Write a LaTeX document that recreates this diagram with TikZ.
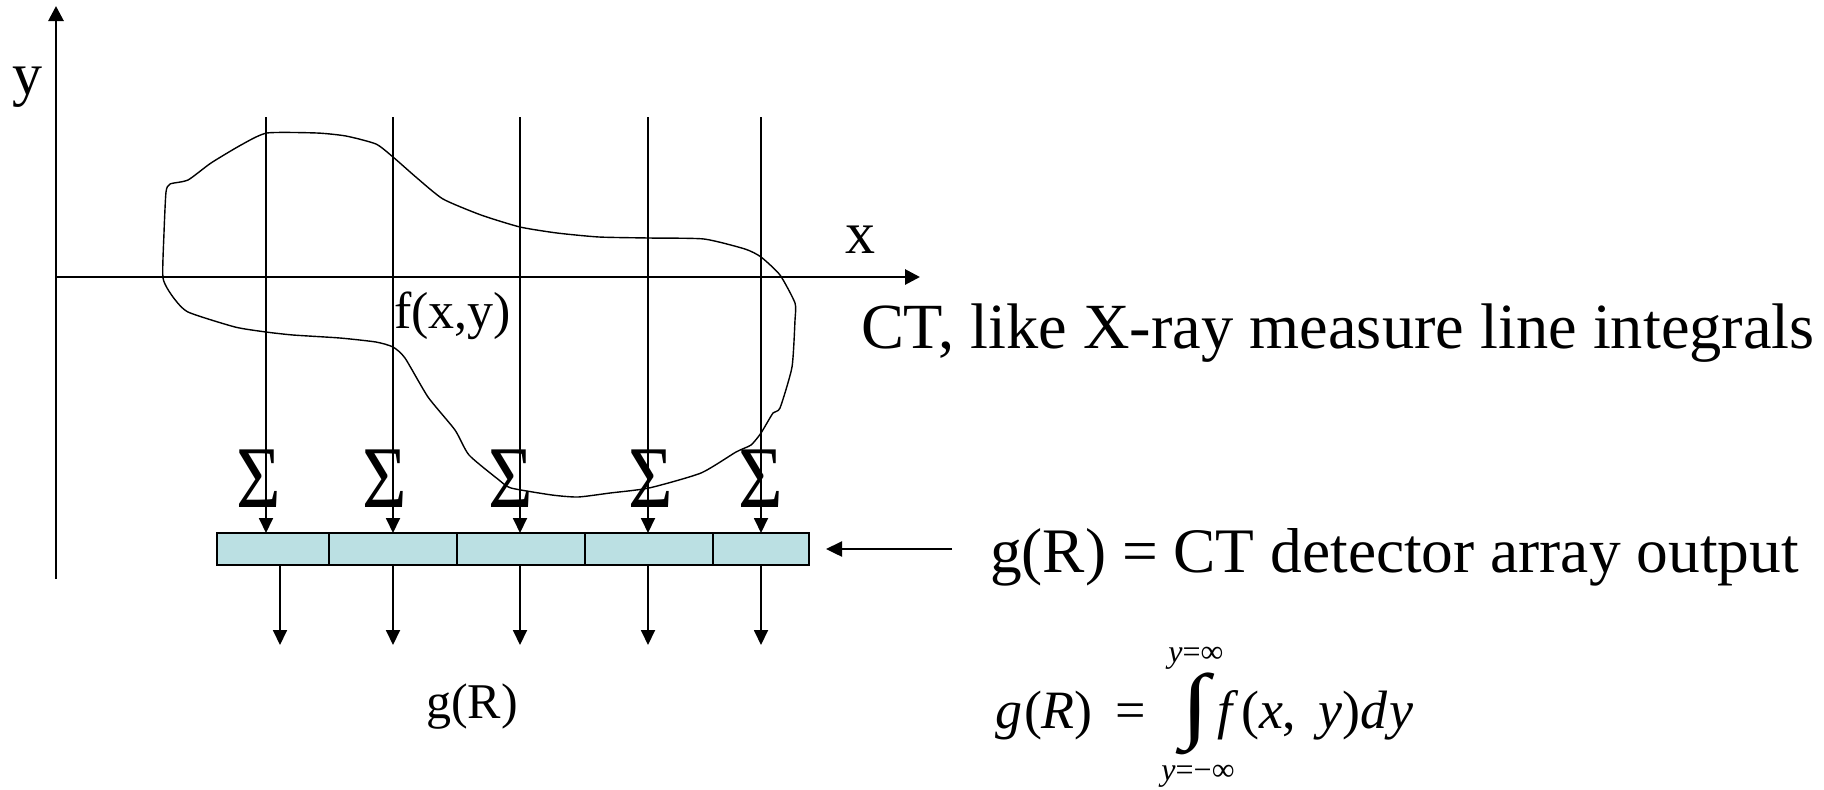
\documentclass[tikz,border=0pt]{standalone}
\usepackage{fontspec}
\setmainfont{Liberation Serif}
\usetikzlibrary{arrows.meta}
\definecolor{cellfill}{RGB}{187,224,227}
\begin{document}
\begin{tikzpicture}[x=0.5pt,y=-0.5pt,
  axisline/.style={line width=1.4pt,-{Triangle[length=7.5pt,width=7.5pt]}},
  ray/.style={line width=0.9pt,-{Triangle[length=7.5pt,width=7pt]}},
  blobline/.style={line width=0.7pt},
  cell/.style={draw,line width=1.2pt,fill=cellfill,minimum height=16pt,inner sep=0pt,outer sep=0pt},
  txt/.style={inner sep=0pt,outer sep=0pt,anchor=base west},
  sig/.style={inner sep=0pt,outer sep=0pt,anchor=base,font=\fontsize{44}{44}\selectfont}
]
\useasboundingbox (0,0) rectangle (1824,789);

% axes
\coordinate (O) at (56,277);
\coordinate (ytop) at (56,6);
\coordinate (ybot) at (56,579);
\coordinate (xend) at (920,277);
\draw[axisline] (ybot) -- (ytop);
\draw[axisline] (O) -- (xend);
\node[txt,font=\fontsize{30}{30}\selectfont] (ylab) at (12,94) {y};
\node[txt,font=\fontsize{30}{30}\selectfont] (xlab) at (845,253) {x};

% object outline
\draw[blobline] plot[smooth cycle,tension=0.35] coordinates {
 (170,184) (188,180) (211,163) (241,145) (267,133) (317,133) (346,136) (376,144)
 (393,157) (417,178) (443,199) (481,215) (520,227) (557,233) (599,237) (649,238)
 (704,239) (745,249) (761,257) (780,275) (795,303) (795,320) (792,367) (780,408)
 (773,413) (761,433) (751,445) (736,452) (701,473) (649,488) (610,493) (578,497)
 (552,495) (511,488) (499,480) (469,455) (455,430) (428,397) (405,358) (393,347)
 (376,342) (340,338) (293,335) (266,332) (235,327) (188,312) (173,297) (163,278)
 (164,233) (166,192)};
\node[txt,font=\fontsize{26}{26}\selectfont] (fxy) at (394,328) {f(x,y)};

% detector cells
\node[cell,minimum width=56pt] (c1) at (273,549) {};
\node[cell,minimum width=64pt] (c2) at (393,549) {};
\node[cell,minimum width=64pt] (c3) at (521,549) {};
\node[cell,minimum width=64pt] (c4) at (649,549) {};
\node[cell,minimum width=48pt] (c5) at (761,549) {};

% sums
\node[sig] (s1) at (259,507) {\scalebox{0.87}[1]{Σ}};
\node[sig] (s2) at (385,507) {\scalebox{0.87}[1]{Σ}};
\node[sig] (s3) at (511,507) {\scalebox{0.87}[1]{Σ}};
\node[sig] (s4) at (651,507) {\scalebox{0.87}[1]{Σ}};
\node[sig] (s5) at (761,507) {\scalebox{0.87}[1]{Σ}};

% rays
\coordinate (t1) at (266,117);
\coordinate (t2) at (393,117);
\coordinate (t3) at (520,117);
\coordinate (t4) at (648,117);
\coordinate (t5) at (761,117);
\draw[ray] (t1) -- (t1 |- c1.north);
\draw[ray] (t2) -- (t2 |- c2.north);
\draw[ray] (t3) -- (t3 |- c3.north);
\draw[ray] (t4) -- (t4 |- c4.north);
\draw[ray] (t5) -- (t5 |- c5.north);

% outputs
\coordinate (b1) at (280,645);
\coordinate (b2) at (393,645);
\coordinate (b3) at (520,645);
\coordinate (b4) at (648,645);
\coordinate (b5) at (761,645);
\draw[ray] (b1 |- c1.south) -- (b1);
\draw[ray] (b2 |- c2.south) -- (b2);
\draw[ray] (b3 |- c3.south) -- (b3);
\draw[ray] (b4 |- c4.south) -- (b4);
\draw[ray] (b5 |- c5.south) -- (b5);
\node[inner sep=0pt,anchor=base,font=\fontsize{25}{25}\selectfont] (gR) at (472,718) {g(R)};

% right texts
\node[txt,font=\fontsize{32.2}{33}\selectfont] (ct) at (861,348) {CT, like X-ray measure line integrals};
\node[txt,font=\fontsize{31.7}{32}\selectfont] (det) at (990,572) {g(R) = CT detector array output};
\draw[line width=1.2pt,-{Triangle[length=8pt,width=7.5pt]}] ([xshift=-19pt,yshift=11.5pt]det.base west) -- ([xshift=8.5pt]c5.east);

% formula
\node[txt,font=\fontsize{27}{27}\selectfont] (lhs) at (995,728) {\itshape g\kern1pt\upshape(\itshape R\upshape)\, =};
\node[inner sep=0pt,font=\fontsize{27}{27}\selectfont] (intg) at (1195,714) {\resizebox*{14pt}{41pt}{∫}};
\node[txt,font=\fontsize{27}{27}\selectfont] (rhs) at (1217,728) {\itshape f\,\upshape(\itshape x\upshape,\, \itshape y\upshape)\itshape d\kern1pt y};
\node[inner sep=0pt,font=\fontsize{16}{16}\selectfont] (upl) at (1196,658) {\itshape y\upshape=∞};
\node[inner sep=0pt,font=\fontsize{16}{16}\selectfont] (lol) at (1198,776) {\itshape y\upshape=−∞};
\end{tikzpicture}
\end{document}
